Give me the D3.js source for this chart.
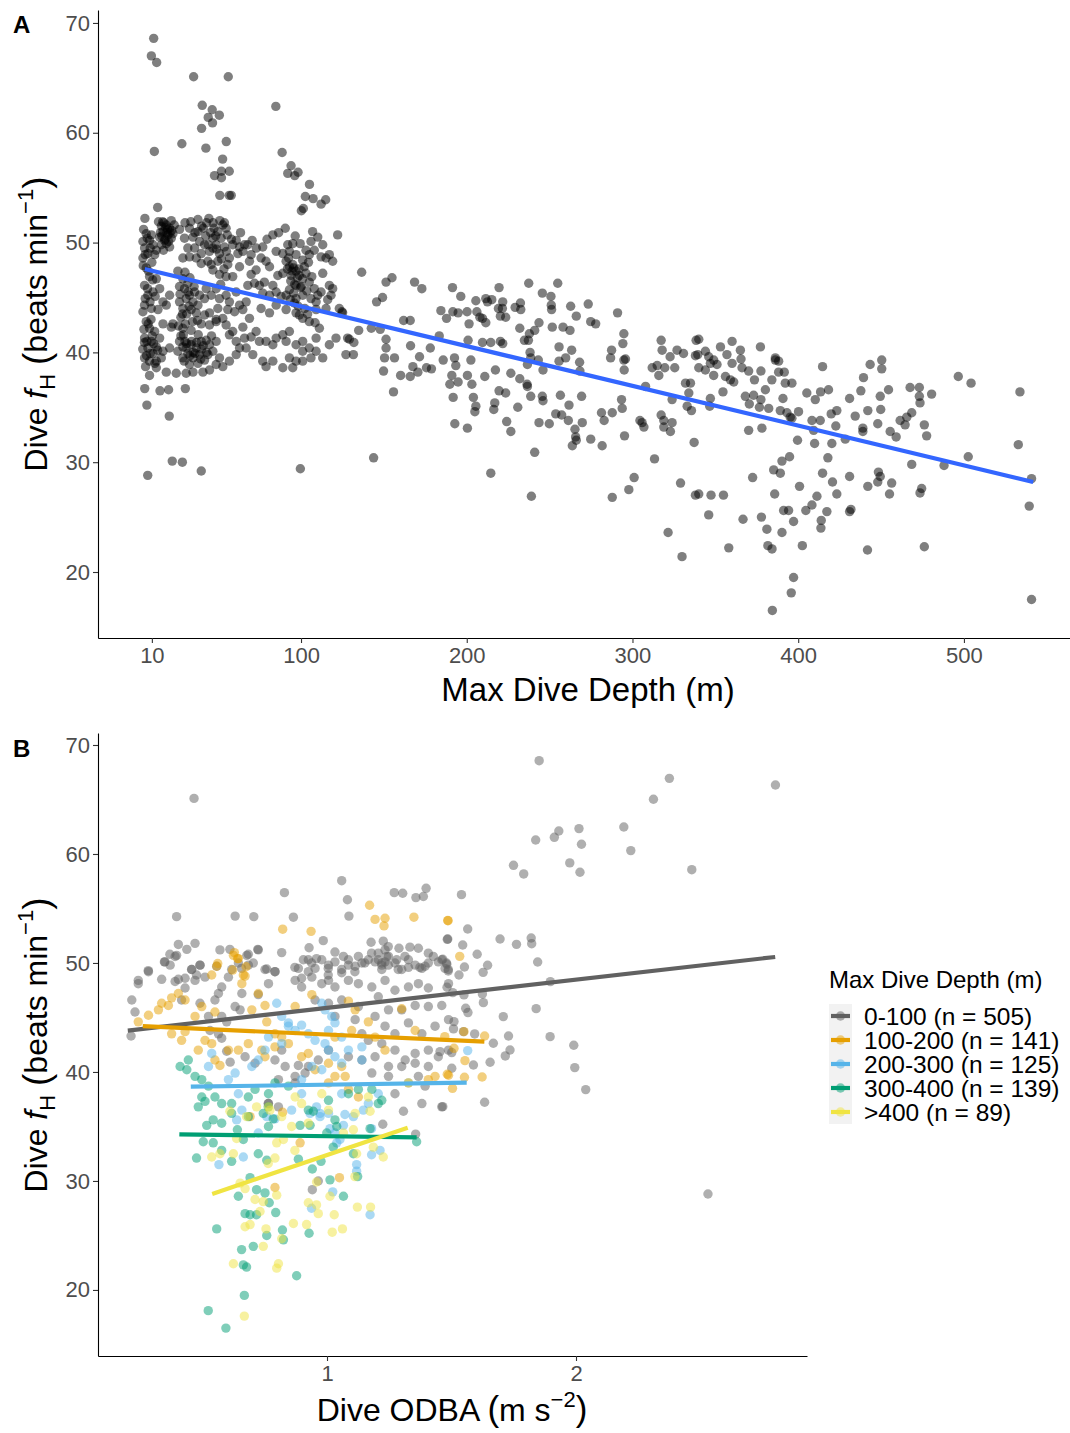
<!DOCTYPE html>
<html><head><meta charset="utf-8">
<script src="https://cdn.jsdelivr.net/npm/d3@7"></script>
<style>
body{margin:0;background:#fff}
svg{display:block}
text{font-family:"Liberation Sans",Arial,sans-serif}
</style>
</head><body>
<svg id="c" width="1070" height="1433"></svg>
<script>
// ---------------- DATA ----------------
const depthTicks = [10, 100, 200, 300, 400, 500];
const fhTicks = [20, 30, 40, 50, 60, 70];
const odbaTicks = [1, 2];

// Panel A: [max dive depth (m), dive fH (beats/min)]
const panelAOutliers = [[11.1,68.6],[9.7,67.0],[12.9,66.4],[35.2,65.1],[56.1,65.1],[40.4,62.5],[46.4,62.1],[50.7,61.6],[44.0,61.4],[46.6,60.9],[84.8,62.4],[40.0,60.4],[28.1,59.0],[11.5,58.3],[42.6,58.6],[54.9,59.2],[88.6,58.2],[52.7,57.6],[94.0,57.0],[92.0,56.3],[96.2,56.1],[98.2,56.4],[47.8,56.1],[52.0,56.5],[56.7,56.5],[52.0,55.9],[105.1,55.3],[51.0,54.3],[56.7,54.3],[57.9,54.3],[102.6,54.2],[107.3,54.0],[114.9,53.9],[112.1,53.5],[101.4,53.1],[100.2,52.9],[13.5,53.2],[5.8,52.2],[122.1,50.7],
[5.7,36.7],[7.0,35.2],[20.5,34.2],[22.3,30.1],[28.4,30.0],[7.5,28.8],[39.8,29.2],[99.6,29.4],[14.9,36.5],[20.1,36.6],[30.2,36.7]];

const panelAShallow = [[21.7,52.0],[37.8,52.1],[44.4,52.2],[53.8,51.8],
[15.7,51.5],[18.7,51.6],[20.7,51.3],[16.7,51.0],[19.7,50.7],[21.7,50.4],[17.7,50.2],[14.7,50.5],[22.7,50.8],[18.7,49.9],[15.7,49.8],[20.7,49.6],
[6.6,50.8],[4.6,50.1],[8.6,50.2],[10.7,49.8],[5.6,49.5],[7.6,49.0],[11.7,48.9],[4.6,48.6],[9.7,50.7],[12.7,49.3],
[26.7,51.2],[29.7,50.4],[32.7,51.3],[34.8,50.5],[37.8,51.0],[38.8,50.1],[35.8,49.5],[31.7,49.5],[28.7,48.6],[32.7,48.7],[36.8,48.6],[39.8,49.0],[41.8,49.8],[44.8,49.2],[46.8,50.4],[49.8,51.0],[52.8,51.6],[54.8,51.3],[51.8,50.4],[48.8,49.8],[46.8,49.5],[50.8,49.0],[53.8,49.6],[43.8,48.3],[39.8,48.1],[45.8,48.0],[49.8,48.3],[56.8,48.6],[55.8,48.0],[60.9,50.2],[62.9,49.6],[65.9,49.8],[67.9,49.8],[64.9,49.2],[61.9,49.0],[58.8,49.8],[69.9,48.9],[68.9,48.3],[62.9,47.8],[58.8,46.9],[54.8,46.9],[50.8,47.1],[46.8,47.5],
[76.9,49.6],[83.0,50.7],[85.0,49.2],[89.0,49.0],[92.0,49.8],[95.0,49.9],[93.0,49.2],[97.0,48.9],[101.0,48.4],[107.0,51.0],[110.1,50.5],[113.1,49.8],[106.0,50.1],[108.0,49.3],[105.0,48.9],[112.1,48.7],[117.1,48.9],[119.1,48.3],[115.1,48.6],
[91.0,48.3],[93.0,47.8],[95.0,48.0],[97.0,47.4],[99.0,47.0],[94.0,47.0],[89.0,47.2],[101.0,46.7],[103.0,47.2],[105.0,46.4],[108.0,45.8],[110.1,45.2],[106.0,44.9],[109.1,44.6],[112.1,45.5],[97.0,46.1],[93.0,45.7],[91.0,45.2],[101.0,45.2],[97.0,44.9],[88.0,45.1],[85.0,45.5],[83.0,46.1],[86.0,47.0],[81.0,47.8],[78.9,48.3],[75.9,48.6],[72.9,47.5],[69.9,47.1],[71.9,46.3],[67.9,46.1],[74.9,46.1],[77.9,46.4],[81.0,45.2],[76.9,45.4],
[113.1,47.2],[117.1,46.1],[119.1,45.8],[116.1,44.8],[118.1,45.2],[115.1,44.0],[109.1,43.9],[123.1,44.0],[125.1,43.6],
[25.7,47.4],[28.7,46.7],[26.7,46.0],[29.7,45.8],[31.7,46.3],[32.7,45.2],[35.8,45.5],[30.7,44.9],[34.8,44.6],[37.8,44.3],[33.7,43.9],[36.8,43.6],[28.7,44.0],[26.7,44.6],[38.8,45.2],[41.8,44.9],[42.8,45.8],[45.8,45.2],[48.8,45.8],[50.8,44.9],[54.8,45.2],[56.8,44.6],[60.9,45.5],[62.9,44.3],[66.9,44.6],[64.9,43.9],[59.9,43.7],[55.8,43.9],[52.8,43.1],[48.8,43.0],[44.8,43.6],[41.8,43.4],[49.8,44.0],
[6.6,47.7],[8.6,46.9],[12.7,46.7],[5.6,46.1],[7.6,45.2],[10.7,45.5],[14.7,45.8],[16.7,44.6],[5.6,44.3],[9.7,44.0],[4.6,43.7],[13.7,43.9],[18.7,44.3],[20.7,45.2],
[6.6,42.8],[8.6,42.2],[11.7,41.9],[5.6,41.3],[9.7,41.0],[12.7,40.5],[7.6,40.4],[10.7,39.9],[5.6,39.5],[8.6,39.2],[12.7,39.2],[15.7,39.5],[16.7,40.1],[14.7,41.3],
[26.7,41.0],[28.7,40.5],[30.7,40.4],[33.7,40.7],[36.8,40.4],[39.8,41.0],[42.8,41.1],[44.8,40.7],[46.8,40.1],[43.8,39.8],[38.8,39.8],[34.8,39.5],[31.7,39.9],[28.7,39.5],[25.7,40.1],[48.8,41.0],[50.8,39.5],[41.8,39.3],[37.8,39.0],[32.7,38.9],
[20.7,40.4],[21.7,42.3],[16.7,42.6],[22.7,42.6],[28.7,42.2],[33.7,42.0],[39.8,42.6],[44.8,42.5],[48.8,42.8],[54.8,42.5],[56.8,41.6],[60.9,41.0],[62.9,40.4],[65.9,41.3],[69.9,41.4],[72.9,41.9],[74.9,41.0],[78.9,41.0],[83.0,40.7],[85.0,41.3],[89.0,41.6],[93.0,41.9],[91.0,41.0],[97.0,40.7],[101.0,41.0],[105.0,40.4],[109.1,40.1],[101.0,40.1],[106.0,39.5],[101.0,39.2],[97.0,39.2],[93.0,39.5],[95.0,38.6],[89.0,38.6],[83.0,39.2],[76.9,39.2],[78.9,38.7],[70.9,39.8],[66.9,40.4],[60.9,39.8],[56.8,39.2],[52.8,38.7],[48.8,38.9],[44.8,38.4],[40.8,38.2],[34.8,38.2],[30.7,38.1],[24.7,38.1],[18.7,38.2],[12.7,38.6],[8.6,37.9],[58.8,41.9],[64.9,42.3],[68.9,43.1],[75.9,44.0],[81.0,43.6],[85.0,44.3],[91.0,43.9],[97.0,43.6],[101.0,43.1],[105.0,42.8],[111.1,42.2],[109.1,41.3],[113.1,39.5],[117.1,40.7],[121.1,41.3],[128.1,41.3],[127.1,39.8],
[17.2,51.8],[19.5,51.2],[21.0,50.9],[16.0,50.6],[18.0,50.3],[23.5,51.6],[14.0,51.9],[5.0,51.2],[7.2,50.4],[9.0,49.5],[6.0,48.9],[4.8,47.9],[8.0,47.4],[10.0,48.2],
[30.0,51.8],[33.5,51.9],[36.0,50.9],[40.0,51.5],[42.5,50.6],[47.5,51.3],[51.0,52.0],[55.5,50.7],[58.0,50.3],[63.5,50.9],[70.5,50.2],[73.0,49.5],[79.5,50.3],[86.5,50.9],[90.5,51.3],[96.5,50.6],[99.5,49.9],[103.0,49.3],
[95.5,47.7],[97.8,46.8],[99.7,45.9],[93.8,46.5],[103.5,45.6],[106.5,46.9],[91.8,47.6],[98.3,44.2],[102.3,44.0],[95.5,45.4],[104.0,43.5],[108.5,42.7],
[30.0,47.3],[33.0,46.8],[35.5,46.0],[31.0,43.5],[34.5,42.8],[27.5,43.2],[37.5,42.9],[32.0,45.5],
[5.2,42.1],[7.0,41.0],[9.0,39.9],[11.0,40.8],[6.2,38.7],[13.5,40.2],[4.5,40.3],
[27.5,41.5],[30.0,41.0],[33.0,39.7],[36.0,39.9],[40.0,40.3],[43.0,40.0],[46.0,41.5],[38.0,41.6],[29.5,39.2],
[16.5,51.9],[18.2,51.4],[20.1,50.1],[22.0,51.1],[17.0,49.3],[19.0,50.9],[15.2,50.9],
[41.0,51.3],[43.0,51.8],[45.5,50.9],[48.5,50.6],[44.0,49.8],[47.0,51.8],[49.0,49.4],[52.0,48.5],[53.5,47.6],[51.5,46.2],[55.0,49.2],
[92.5,48.6],[94.5,47.4],[96.2,46.2],[98.8,47.6],[100.2,46.0],[96.0,44.5],[99.0,43.4],[93.5,44.8],[102.0,47.8],[104.5,48.2],
[27.0,45.3],[28.5,43.5],[30.2,42.6],[32.5,44.2],[29.0,41.6],[26.0,42.4],
[5.5,40.9],[7.8,42.6],[10.2,41.5],[6.8,39.7],[11.8,39.0],[9.5,43.0],
[31.0,40.8],[34.0,41.0],[37.0,40.9],[41.0,40.6],[35.0,40.0],[39.5,39.4],
[7.4,45.8],[10.5,46.6],[6.0,44.9],[12.0,45.1],[8.9,44.6]];

const panelAMid = [[136.6,47.3],[151.3,46.4],[154.9,46.8],[145.6,44.6],[149.2,45.0],[168.5,46.4],[172.9,45.8],[124.7,43.7],[134.8,42.0],[129.2,41.2],[131.9,40.9],[131.6,39.8],[142.4,42.2],[147.8,42.1],[151.3,41.2],[151.3,40.4],[150.4,39.5],[156.4,39.5],[149.8,38.3],[155.8,36.4],[160.1,37.9],[165.9,37.8],[166.1,40.6],[161.9,42.9],[165.9,42.9],[167.5,38.7],[170.5,38.2],[171.5,39.6],[175.7,38.6],[178.7,38.5],[178.0,40.4],[184.4,43.8],[187.8,43.1],[191.6,43.7],[194.8,43.6],[183.4,41.5],[185.8,39.3],[192.6,39.5],[193.4,38.8],[191.4,45.9],[196.4,45.1],[191.0,37.9],[194.8,37.3],[189.8,37.1],[191.8,35.9],[192.8,33.5],[200.4,33.1],[143.8,30.4],[200.4,37.9],[203.1,37.1],[204.0,35.9],[205.5,35.1],[204.9,34.6],[200.8,41.1],[202.5,39.3],[201.4,42.6],[200.2,43.7],[205.5,44.7],[206.1,43.7],[209.5,43.1],[211.5,42.7],[207.9,43.2],[211.5,44.9],[212.5,44.6],[215.1,44.8],[219.5,45.9],[221.7,44.6],[220.3,43.3],[223.5,43.2],[219.1,44.0],[221.5,44.0],[209.5,40.9],[214.5,40.9],[220.3,41.0],[221.7,40.8],[210.9,37.8],[217.3,38.4],[219.5,36.5],[223.5,36.3],[216.9,35.4],[216.3,34.8],[214.5,29.0],[224.1,33.7],[226.6,32.8],[226.6,38.1],[232.0,37.6],[236.4,37.1],[230.8,35.0],[229.2,44.1],[232.6,43.9],[232.4,44.5],[232.0,42.2],[234.8,41.1],[237.8,41.7],[237.2,41.1],[241.0,42.0],[243.6,42.7],[237.4,46.3],[245.6,45.4],[250.8,45.1],[251.0,44.3],[251.2,43.9],[254.9,46.3],[238.2,40.0],[238.6,39.5],[236.6,38.9],[243.2,39.3],[246.0,38.4],[236.6,36.9],[238.6,36.0],[245.6,36.0],[246.0,35.6],[241.0,30.9],[239.0,26.9],[243.6,33.6],[249.8,33.5],[253.7,34.4],[257.3,34.3],[251.6,42.3],[258.1,42.3],[262.3,42.0],[255.7,40.5],[255.7,39.2],[259.7,39.5],[263.3,40.2],[268.1,39.1],[268.3,38.3],[256.5,36.1],[261.7,35.2],[269.3,36.0],[261.3,33.8],[269.7,33.6],[265.3,33.0],[265.7,32.3],[263.7,31.5],[266.1,32.0],[262.7,44.2],[266.1,43.3],[273.3,44.4],[274.8,42.8],[277.8,42.6],[291.0,43.6],[294.8,41.7],[294.2,40.8],[287.4,40.2],[286.8,39.5],[294.8,39.3],[295.8,39.4],[295.0,38.4],[274.8,32.1],[281.7,31.5],[281.3,34.5],[282.9,33.8],[287.8,34.5],[293.4,35.7],[293.8,34.9],[295.2,32.4],[304.5,33.8],[306.9,33.2],[305.8,33.6],[307.9,36.9],[317.3,41.1],[317.9,40.2],[322.7,39.6],[326.9,40.2],[330.8,39.9],[338.4,41.1],[338.0,39.7],[311.9,38.6],[314.9,38.8],[315.9,37.9],[319.5,38.6],[325.5,38.6],[317.3,34.3],[318.9,33.8],[318.9,33.2],[322.9,32.8],[323.9,33.6],[313.3,30.3],[301.0,28.6],[297.8,27.5],[287.8,26.8],[329.0,28.1],[338.0,27.0],[332.0,37.2],[335.0,37.2],[334.0,36.3],[333.0,35.1],[335.6,34.7],[337.2,31.8],[323.9,35.7]];

const panelADeep = [[340.0,41.2],[339.4,39.8],[344.0,40.1],[346.0,39.6],[340.0,38.6],[344.0,38.4],[347.0,39.0],[353.1,40.5],[357.0,39.8],[360.1,41.0],[365.1,40.2],[365.5,39.4],[360.1,39.0],[349.0,39.3],[351.0,38.9],[349.0,37.9],[356.1,37.8],[359.1,37.5],[361.1,37.3],[354.6,36.4],[347.0,35.8],[346.6,35.1],[366.1,38.6],[370.1,38.3],[373.6,37.5],[377.5,38.3],[368.1,36.0],[373.1,36.1],[376.6,35.0],[377.5,35.7],[380.2,36.6],[384.1,37.5],[386.2,39.3],[377.2,40.5],[370.5,35.3],[370.1,32.9],[378.1,33.1],[382.2,34.9],[389.2,34.7],[390.8,35.8],[392.2,37.2],[396.2,37.2],[388.2,38.2],[391.6,38.2],[386.2,39.5],[388.2,39.2],[395.2,34.1],[396.2,34.0],[400.2,34.6],[393.2,34.5],[408.3,33.8],[413.3,33.8],[409.3,32.9],[399.6,32.0],[409.9,31.7],[420.3,31.7],[422.7,33.3],[419.9,34.4],[414.7,38.7],[418.3,36.6],[413.5,36.4],[410.3,35.7],[405.2,36.3],[428.4,32.1],[431.0,35.8],[434.4,34.2],[423.3,34.7],[439.4,37.7],[443.4,38.9],[450.4,39.3],[450.4,38.5],[437.8,36.5],[449.5,36.0],[454.5,36.6],[449.8,34.8],[442.0,34.7],[448.0,33.5],[439.0,33.1],[439.0,32.8],[456.4,28.1],[448.4,29.1],[449.5,28.7],[448.0,28.2],[442.0,27.8],[455.1,27.1],[441.8,22.0],[431.0,25.5],[431.8,25.7],[468.5,29.8],[474.5,27.6],[473.5,27.2],[476.1,22.3],[467.5,36.8],[473.1,36.8],[480.5,36.2],[473.1,36.0],[473.5,35.4],[468.5,34.5],[465.5,34.1],[461.5,33.8],[464.5,33.4],[455.5,32.8],[459.1,32.3],[476.1,33.4],[477.5,32.4],[496.6,37.8],[504.3,37.2],[488.0,29.7],[502.6,30.5],[533.8,36.4],[532.8,31.6],[540.8,28.5],[539.4,26.0],[540.8,17.5],[321.5,23.6],[329.9,21.4],[346.0,25.2],[358.1,22.2],[366.7,24.8],[377.8,25.0],[381.1,23.9],[381.7,22.4],[384.2,22.1],[390.2,23.6],[391.2,25.6],[394.2,25.6],[397.2,24.6],[404.6,25.6],[408.3,26.1],[411.3,26.9],[417.3,25.5],[413.9,24.7],[413.7,24.0],[402.5,22.4],[397.2,19.5],[395.8,18.1],[384.4,16.5],[389.2,29.0],[385.2,29.3],[390.2,30.1],[394.8,30.5],[385.8,27.1],[372.5,28.6],[400.8,27.8],[417.9,30.4],[414.7,29.0],[420.7,28.2],[423.3,27.1],[431.0,28.7],[340.0,27.1],[347.4,27.0],[354.9,27.0]];

// Fitted linear trend, panel A
const fitA = [[5.7,47.6],[541.8,28.2]];

// Panel B: [dive ODBA (m s^-2), dive fH] by max-dive-depth class
const depth0_100 = [[0.466,65.1],[1.059,57.55],[0.829,56.45],[1.082,55.8],[1.088,54.3],[1.270,56.45],[1.304,56.4],[1.357,56.0],[1.387,56.1],[1.398,56.85],[0.396,54.25],[0.631,54.3],[0.706,54.25],[0.865,54.2],[1.485,52.2],[0.985,52.05],[0.928,51.4],[0.818,50.95],[1.177,51.9],[1.226,52.0],[1.246,51.5],[1.289,51.35],[1.333,51.45],[1.367,51.35],[0.403,51.7],[0.470,51.8],[0.437,51.25],[0.369,50.8],[0.390,50.6],[0.347,50.1],[0.282,49.3],[0.570,51.2],[0.610,51.25],[0.684,50.8],[0.722,51.25],
[0.871,49.6],[0.905,50.3],[0.938,50.0],[0.958,50.4],[1.005,49.5],[1.032,51.0],[1.066,50.6],[1.086,49.8],[1.126,50.6],[1.152,50.0],[1.179,50.9],[1.206,50.9],[1.220,50.0],[1.233,51.2],[1.246,49.8],[1.280,50.3],[1.313,50.6],[1.407,50.9],[1.427,50.6],[1.461,50.3],[1.480,50.0],[1.487,49.4],[1.327,49.6],[1.373,49.6],[1.394,49.7],[1.286,49.4],[1.112,49.2],[1.059,49.1],[0.925,49.2],[0.898,48.6],[1.005,48.9],[0.758,49.45],[0.791,49.2],[0.704,50.0],[0.657,49.5],[0.557,49.7],[0.490,49.8],[0.456,49.4],[0.476,48.9],[0.430,48.6],[0.403,48.5],[0.242,48.4],[0.336,48.5],[1.206,50.3],[1.233,50.1],[1.240,50.6],[1.220,49.4],
[0.213,43.3],[0.216,46.6],[0.242,48.1],[0.229,45.5],[0.283,49.2],[0.349,50.1],[0.370,49.8],[0.396,50.7],[0.390,48.3],[0.416,46.6],[0.430,47.7],[0.457,49.4],[0.470,48.4],[0.490,49.8],[0.510,48.7],[0.490,46.3],[0.524,45.1],[0.550,46.6],[0.564,47.2],[0.577,47.8],[0.604,48.7],[0.617,49.4],[0.644,50.0],[0.678,50.7],[0.684,49.8],[0.724,51.2],[0.751,49.4],[0.791,49.2],[0.765,48.1],[0.724,47.1],[0.658,47.2],[0.631,46.0],[0.651,45.7],[0.577,45.1],[0.597,44.6],[0.530,43.8],[0.564,43.5],[0.577,43.1],[0.597,41.9],[0.611,40.9],[0.671,41.4],[0.711,40.8],[0.791,41.1],[0.832,40.5],[0.885,40.6],[0.912,39.9],[0.872,39.6],[0.818,42.0],[0.885,49.5],[0.925,50.3],[0.952,49.5],[0.979,50.3],[1.006,49.8],[1.032,50.1],[1.059,49.4],[1.086,50.3],[1.113,49.7],[1.140,50.0],[1.166,50.3],[1.193,50.1],[1.220,49.8],[1.247,50.6],[1.273,50.0],[1.300,49.4],[1.327,50.3],[1.354,49.8],[1.381,49.5],[1.407,50.0],[1.447,50.1],[1.474,49.5],[1.488,48.1],[0.872,48.4],[0.898,47.8],[0.939,48.7],[0.979,48.1],[1.006,48.4],[1.032,47.8],[1.086,48.4],[1.126,48.1],[1.180,47.8],[1.233,48.4],[1.273,47.5],[1.327,47.8],[1.367,48.1],[1.407,47.7],[0.952,46.6],[1.006,46.3],[1.059,46.6],[1.126,46.0],[1.206,46.9],[1.247,45.7],[1.300,45.7],[1.354,46.1],[1.407,46.0],[1.461,46.1],[1.032,45.1],[1.113,44.8],[1.193,45.1],[1.233,44.2],[1.273,43.5],[1.327,44.5],[1.381,43.5],[1.434,44.2],[1.488,44.8],[1.140,43.5],[1.166,42.9],[1.220,42.6],[1.273,42.0],[1.314,41.1],[1.354,41.7],[1.407,42.0],[1.447,41.4],[1.488,42.0],[1.193,41.4],[1.247,40.5],[1.300,40.5],[1.354,40.8],[1.407,40.5],[1.247,39.6],[1.327,39.0],[1.367,39.6],[1.394,38.7],[1.461,36.8],[1.381,37.1],[1.273,38.0],[1.180,39.9],[1.140,41.1],[1.086,41.4],[1.006,42.0],[0.965,41.1],[0.925,40.5],[0.872,39.0],[0.805,39.3],[0.765,37.1],[0.805,36.8],
[0.764,37.1],[1.307,36.4],[1.224,35.2],[1.356,34.3],[0.965,30.0],[0.941,29.2],
[1.852,68.56],[2.375,66.94],[2.801,66.33],[2.311,65.02],[1.838,61.28],[1.913,61.53],[1.931,62.11],[2.012,62.33],[2.022,60.89],[2.192,62.48],[2.220,60.31],[1.749,58.96],[1.790,58.17],[1.975,59.18],[2.016,58.32],[2.465,58.56],[1.540,56.27],[1.565,53.12],[1.483,52.17],[1.545,51.65],[1.695,52.2],[1.761,51.71],[1.820,52.29],[1.822,51.77],[1.846,50.09],[1.465,50.34],[1.481,49.88],[1.487,49.27],[1.530,48.9],[1.552,49.63],[1.603,50.8],[1.645,49.79],[1.627,49.14],[1.482,47.77],[1.505,47.28],[1.550,47.07],[1.624,47.16],[1.628,46.36],[1.897,48.29],[1.557,45.84],[1.566,45.45],[1.708,45.08],[1.840,45.81],[1.510,44.62],[1.508,43.95],[1.593,43.49],[1.548,43.70],[1.729,43.3],[1.896,43.24],[1.668,42.63],[1.735,42.02],[1.716,41.47],[1.655,40.89],[1.588,40.64],[1.991,42.45],[1.995,40.4],[2.039,38.38],[1.501,40.34],[1.465,36.82],[1.633,37.22],[1.501,41.78],[1.454,41.87],[2.530,28.8]];

const depth100_200 = [[1.171,55.3],[1.193,54.0],[1.233,54.1],[1.229,53.4],[1.349,54.2],[1.485,53.9],[0.822,53.1],[0.936,52.9],[0.628,50.95],[0.641,50.4],[0.561,49.95],[0.621,49.35],[0.675,49.65],[0.671,48.8],
[0.242,44.6],[0.283,45.2],[0.323,45.7],[0.336,46.3],[0.363,46.1],[0.403,47.2],[0.430,46.6],[0.376,46.8],[0.470,45.1],[0.497,46.0],[0.550,45.5],[0.557,49.7],[0.537,48.9],[0.624,50.7],[0.644,50.4],[0.664,48.9],[0.658,48.1],[0.724,47.2],[0.698,45.7],[0.751,46.1],[0.758,44.6],[0.791,43.5],[0.872,46.0],[0.939,47.1],[1.032,43.2],[1.086,46.5],[1.113,45.7],[1.099,43.8],[1.166,44.6],[1.193,43.2],[1.233,42.0],[1.300,45.8],[1.354,43.8],[1.407,39.3],[1.434,39.6],[1.488,39.7],[0.376,43.5],[0.416,42.9],[0.430,43.7],[0.483,42.0],[0.510,42.9],[0.537,42.6],[0.550,41.1],[0.570,40.6],[0.604,42.0],[0.644,42.0],[0.684,42.6],[0.738,42.0],[0.751,41.4],[0.791,42.3],[0.818,43.2],[0.845,42.6],[0.898,41.4],[0.925,41.7],[0.952,40.2],[1.006,40.8],[1.059,40.5],[1.032,39.6],[1.073,39.6],[1.086,38.4],[1.126,37.7],[1.006,39.0],
[0.691,35.9],[0.822,36.3],[0.892,33.5],[1.050,30.3],[0.791,29.4],
[1.486,53.88],[1.533,50.61],[1.550,43.7],[1.633,43.3],[1.473,43.24],[1.510,42.17],[1.554,41.04],[1.552,39.51],[1.623,39.54],[1.504,38.5],[1.483,39.79]];

const depth200_300 = [[0.798,46.3],[0.818,45.1],[0.845,44.5],[0.872,43.8],[0.898,44.3],[0.925,43.5],[0.952,42.9],[0.979,46.3],[0.992,45.7],[1.019,45.1],[1.032,44.5],[1.006,43.8],[0.992,42.6],[1.006,42.0],[1.032,41.4],[1.059,43.2],[1.086,42.0],[1.140,42.3],[1.140,41.1],[1.059,40.8],[0.979,40.2],[0.939,40.5],[0.898,39.3],[0.845,44.2],[0.818,42.6],[0.765,43.2],[0.751,42.0],[0.724,41.1],[0.698,40.5],[0.631,39.9],[0.604,39.3],[0.537,41.7],[0.524,40.5],[0.644,38.0],[0.658,36.5],[0.898,38.0],[1.006,36.2],[1.059,38.0],[1.166,37.1],[1.206,38.0],
[0.566,31.5],[0.664,32.2],[0.637,35.6],[0.724,34.4],[0.758,35.9],[0.791,35.7],[0.858,36.5],[0.932,36.2],[0.958,36.8],[0.972,36.2],[1.012,34.8],[1.032,34.4],[1.052,33.8],[1.072,36.1],[1.106,35.9],[1.146,36.5],[1.179,34.8],[1.213,32.8],[1.179,32.4],[1.119,31.5],[1.119,30.9],[1.023,29.0],[0.938,27.5],[1.173,26.9],[0.972,35.9],[1.039,33.5],[1.066,35.1],
[1.565,41.96]];

const depth300_400 = [[0.410,40.5],[0.443,41.1],[0.437,40.2],[0.470,39.6],[0.497,39.3],[0.524,38.7],[0.497,37.7],[0.483,36.8],[0.550,37.7],[0.577,37.1],[0.617,37.1],[0.684,37.7],[0.711,38.4],[0.765,38.0],[0.791,39.0],[0.845,38.7],[0.765,35.0],[0.684,35.9],[0.577,35.3],[0.925,36.5],[1.006,37.4],[1.086,38.0],[1.126,38.4],[1.180,38.4],[1.220,37.4],[1.032,35.6],
[0.476,32.1],[0.557,25.6],[0.523,18.1],[0.594,16.5],[0.668,19.5],[0.878,21.3],[0.677,22.1],[0.664,22.3],[0.657,23.7],[0.704,24.0],[0.758,25.0],[0.821,25.5],[0.825,24.6],[0.928,25.2],[0.794,27.1],[0.751,28.9],[0.768,28.0],[0.691,26.9],[0.717,26.9],[0.671,27.0],[0.644,28.6],[0.717,29.2],[0.691,30.3],[0.617,31.8],[0.577,32.8],[0.543,33.5],[0.503,33.6],[0.517,35.1],[0.543,35.6],[0.510,37.3],[0.617,36.2],[0.640,34.7],[0.664,33.8],[0.724,32.5],[0.758,31.9],[0.885,32.0],[0.941,31.1],[1.012,30.1],[0.976,31.8],[1.066,28.6],[1.123,30.4],[1.106,32.5],[1.025,33.1],[0.999,34.4],[1.039,35.0],[0.932,35.1],[0.892,35.1],[0.945,36.4],[0.784,35.7],[0.744,36.2],[0.764,36.8],[1.360,33.6],[1.173,34.8],[1.206,37.1]];

const depthOver400 = [[0.765,36.8],[0.872,37.7],[0.898,37.1],[0.979,38.0],[1.006,36.5],[0.818,35.9],[1.113,36.2],[1.166,37.7],[1.327,39.0],[0.858,35.0],[0.925,35.3],
[0.537,32.2],[0.570,32.5],[0.624,32.5],[0.637,33.9],[0.610,36.4],[0.677,35.9],[0.717,36.8],[0.771,36.5],[0.825,33.8],[0.798,33.5],[0.871,32.8],[0.791,32.1],[0.764,31.6],[0.651,29.8],[0.671,29.3],[0.711,28.3],[0.744,28.1],[0.798,28.7],[0.731,27.2],[0.671,25.8],[0.691,26.0],[0.755,25.6],[0.818,24.7],[0.744,24.0],[0.624,22.4],[0.805,22.4],[0.798,22.0],[0.668,17.6],[0.865,26.1],[0.918,26.0],[0.925,28.0],[0.965,27.0],[0.958,27.8],[1.012,28.6],[1.029,26.9],[1.021,25.3],[1.062,25.6],[1.122,27.6],[1.175,27.6],[0.958,29.9],[1.112,30.4],[1.119,32.5],[1.226,32.2],[1.186,33.1],[1.173,36.4],[1.106,34.7],[1.066,34.4]];

// Fitted linear trends per depth class, panel B
const fit0_100 = [[0.20,43.8],[2.80,50.55]];
const fit100_200 = [[0.26,44.2],[1.632,42.78]];
const fit200_300 = [[0.453,38.65],[1.561,39.02]];
const fit300_400 = [[0.407,34.28],[1.36,34.0]];
const fitOver400 = [[0.539,28.81],[1.324,34.89]];

const groupLabels = ["0-100 (n = 505)", "100-200 (n = 141)", "200-300 (n = 125)", "300-400 (n = 139)", ">400 (n = 89)"];
const groupColors = ["#5f5f5f", "#E69F00", "#56B4E9", "#009E73", "#F0E442"];
const groupLineColors = ["#616161", "#E69F00", "#56B4E9", "#009E73", "#F0E442"];

// ---------------- DRAW ----------------
const svg = d3.select('#c');
const tickFont = 22, titleFont = 33;

function styleAxis(g){
  g.select('.domain').attr('stroke','#000').attr('stroke-width',1.1);
  g.selectAll('.tick line').attr('stroke','#333').attr('stroke-width',1.1);
  g.selectAll('.tick text').attr('fill','#4D4D4D').style('font-size',tickFont+'px').style('font-family','"Liberation Sans",Arial,sans-serif');
}

function yTitle(cx, cy){
  const t = svg.append('text').attr('transform',`translate(${cx},${cy}) rotate(-90)`)
    .attr('text-anchor','middle').style('font-size','32px').attr('fill','#000');
  t.append('tspan').text('Dive ');
  t.append('tspan').style('font-style','italic').text('f');
  t.append('tspan').attr('dy',8).style('font-size','22px').text('H');
  t.append('tspan').attr('dy',-8).text(' ');
  t.append('tspan').style('font-size','37px').attr('dy',2).text('(');
  t.append('tspan').attr('dy',-2).text('beats min');
  t.append('tspan').attr('dy',-14).style('font-size','22px').text('\u22121');
  t.append('tspan').attr('dy',16).style('font-size','37px').text(')');
}

// ---- Panel A ----
const xA = d3.scaleLinear().domain([-22.5, 564]).range([98, 1070]);
const yA = d3.scaleLinear().domain([13.99, 71.18]).range([638, 10]);

const gAx = svg.append('g').attr('transform','translate(0,638)')
  .call(d3.axisBottom(xA).tickValues(depthTicks).tickSize(5).tickSizeOuter(0).tickPadding(4));
styleAxis(gAx);
const gAy = svg.append('g').attr('transform','translate(98,0)')
  .call(d3.axisLeft(yA).tickValues(fhTicks).tickSize(5).tickSizeOuter(0).tickPadding(3));
styleAxis(gAy);

const ptsA = panelAShallow.concat(panelAOutliers, panelAMid, panelADeep);
svg.append('g').selectAll('circle').data(ptsA).join('circle')
  .attr('cx', d => xA(d[0])).attr('cy', d => yA(d[1])).attr('r', 4.7)
  .attr('fill', '#000').attr('fill-opacity', 0.5);

svg.append('path').datum(fitA)
  .attr('d', d3.line().x(d => xA(d[0])).y(d => yA(d[1])))
  .attr('stroke', '#3366FF').attr('stroke-width', 4.2).attr('fill', 'none');

svg.append('text').attr('x', 588).attr('y', 701).attr('text-anchor','middle')
  .style('font-size', titleFont+'px').text('Max Dive Depth (m)');
yTitle(47, 324);
svg.append('text').attr('x', 13).attr('y', 33).style('font-size','24px').style('font-weight','bold').text('A');

// ---- Panel B ----
const xB = d3.scaleLinear().domain([0.0803, 2.9277]).range([98, 807]);
const yB = d3.scaleLinear().domain([13.94, 71.1]).range([1356, 733]);

const gBx = svg.append('g').attr('transform','translate(0,1356)')
  .call(d3.axisBottom(xB).tickValues(odbaTicks).tickFormat(d3.format('d')).tickSize(5).tickSizeOuter(0).tickPadding(4));
styleAxis(gBx);
const gBy = svg.append('g').attr('transform','translate(98,0)')
  .call(d3.axisLeft(yB).tickValues(fhTicks).tickSize(5).tickSizeOuter(0).tickPadding(3));
styleAxis(gBy);

const groups = [depth0_100, depth100_200, depth200_300, depth300_400, depthOver400];
const fits = [fit0_100, fit100_200, fit200_300, fit300_400, fitOver400];

groups.forEach((pts, i) => {
  svg.append('g').selectAll('circle').data(pts).join('circle')
    .attr('cx', d => xB(d[0])).attr('cy', d => yB(d[1])).attr('r', 4.7)
    .attr('fill', groupColors[i]).attr('fill-opacity', 0.5);
});
fits.forEach((f, i) => {
  svg.append('path').datum(f)
    .attr('d', d3.line().x(d => xB(d[0])).y(d => yB(d[1])))
    .attr('stroke', groupLineColors[i]).attr('stroke-width', 4.2).attr('fill', 'none');
});

// x title panel B
const tB = svg.append('text').attr('x', 452).attr('y', 1421).attr('text-anchor','middle')
  .style('font-size', '32px');
tB.append('tspan').text('Dive ODBA ');
tB.append('tspan').style('font-size','35px').text('(');
tB.append('tspan').text('m s');
tB.append('tspan').attr('dy',-14).style('font-size','22px').text('\u22122');
tB.append('tspan').attr('dy',14).style('font-size','35px').text(')');
yTitle(47, 1045);
svg.append('text').attr('x', 13).attr('y', 757).style('font-size','24px').style('font-weight','bold').text('B');

// Legend
const lg = svg.append('g');
lg.append('text').attr('x', 829).attr('y', 988).style('font-size','24px').text('Max Dive Depth (m)');
lg.append('rect').attr('x', 829).attr('y', 1004).attr('width', 23).attr('height', 120).attr('fill', '#F2F2F2');
groupLabels.forEach((lab, i) => {
  const cy = 1016 + i * 24;
  lg.append('line').attr('x1', 831).attr('x2', 850).attr('y1', cy).attr('y2', cy)
    .attr('stroke', groupLineColors[i]).attr('stroke-width', 4.2);
  lg.append('circle').attr('cx', 840.5).attr('cy', cy).attr('r', 4.7)
    .attr('fill', groupColors[i]).attr('fill-opacity', 0.5);
  lg.append('text').attr('x', 864).attr('y', cy + 9).style('font-size','24.5px').text(lab);
});
</script>
</body></html>
